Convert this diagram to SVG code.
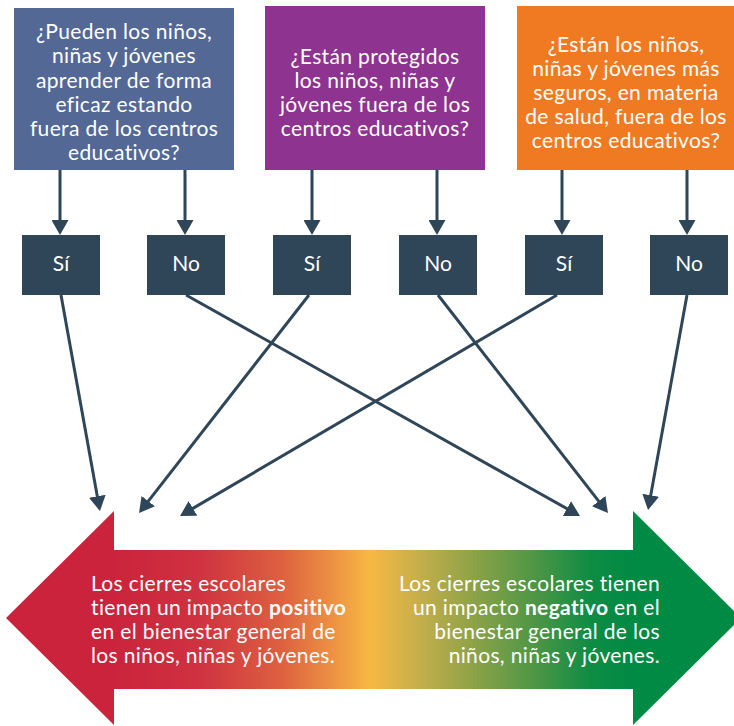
<svg xmlns="http://www.w3.org/2000/svg" width="734" height="726" viewBox="0 0 734 726">
<style>
.q{font-family:Lato,"Noto Sans",sans-serif;font-size:21px;letter-spacing:0.35px;fill:#FFFFFF;text-anchor:middle}
.yn{font-family:Lato,"Noto Sans",sans-serif;font-size:21px;fill:#FFFFFF;text-anchor:middle}
.bt{font-family:Lato,"Noto Sans",sans-serif;font-size:21px;letter-spacing:0.35px;fill:#FFFFFF}
.ans{fill:#2F4658}
.c{stroke:#2F4658;stroke-width:3;fill:none;marker-end:url(#ah)}
</style>
<defs>
<marker id="ah" markerUnits="userSpaceOnUse" markerWidth="15" markerHeight="17" refX="4" refY="8.5" orient="auto">
<path d="M0,0 L15,8.5 L0,17 Z" fill="#2F4658"/>
</marker>
<linearGradient id="g" gradientUnits="userSpaceOnUse" x1="0" y1="0" x2="734" y2="0">
<stop offset="0.155" stop-color="#CB233C"/>
<stop offset="0.272" stop-color="#CF3240"/>
<stop offset="0.381" stop-color="#DD5F40"/>
<stop offset="0.45" stop-color="#EC8F43"/>
<stop offset="0.504" stop-color="#F8B843"/>
<stop offset="0.572" stop-color="#C5AE4B"/>
<stop offset="0.654" stop-color="#86A148"/>
<stop offset="0.736" stop-color="#489545"/>
<stop offset="0.804" stop-color="#0F8C44"/>
<stop offset="0.862" stop-color="#008A44"/>
</linearGradient>
</defs>

<g id="q1">
<rect x="14" y="8" width="220" height="162" fill="#536895"/>
<text class="q" x="124" y="39">¿Pueden los niños,</text>
<text class="q" x="124" y="63">niñas y jóvenes</text>
<text class="q" x="124" y="88">aprender de forma</text>
<text class="q" x="124" y="112">eficaz estando</text>
<text class="q" x="124" y="136">fuera de los centros</text>
<text class="q" x="124" y="160">educativos?</text>
</g>
<g id="q2">
<rect x="265" y="6" width="220" height="164" fill="#8E3390"/>
<text class="q" x="375" y="64">¿Están protegidos</text>
<text class="q" x="375" y="88">los niños, niñas y</text>
<text class="q" x="375" y="112">jóvenes fuera de los</text>
<text class="q" x="375" y="136">centros educativos?</text>
</g>
<g id="q3">
<rect x="517" y="6" width="217" height="164" fill="#F07A22"/>
<text class="q" x="626" y="52">¿Están los niños,</text>
<text class="q" x="626" y="76">niñas y jóvenes más</text>
<text class="q" x="626" y="100">seguros, en materia</text>
<text class="q" x="626" y="124">de salud, fuera de los</text>
<text class="q" x="626" y="148">centros educativos?</text>
</g>

<g id="a1"><rect class="ans" x="22" y="235" width="78" height="60"/><text class="yn" x="61" y="271">Sí</text></g>
<g id="a2"><rect class="ans" x="147" y="235" width="78" height="60"/><text class="yn" x="186" y="271">No</text></g>
<g id="a3"><rect class="ans" x="273" y="235" width="78" height="60"/><text class="yn" x="312" y="271">Sí</text></g>
<g id="a4"><rect class="ans" x="399" y="235" width="78" height="60"/><text class="yn" x="438" y="271">No</text></g>
<g id="a5"><rect class="ans" x="525" y="235" width="78" height="60"/><text class="yn" x="564" y="271">Sí</text></g>
<g id="a6"><rect class="ans" x="650" y="235" width="78" height="60"/><text class="yn" x="689" y="271">No</text></g>

<g id="outcome">
<polygon points="6,618 114,511 114,550 633,550 633,511 741,618 633,725 633,689 114,689 114,725" fill="url(#g)"/>
<text class="bt" x="91" y="591">Los cierres escolares</text>
<text class="bt" x="91" y="615">tienen un impacto <tspan font-weight="bold">positivo</tspan></text>
<text class="bt" x="91" y="639">en el bienestar general de</text>
<text class="bt" x="91" y="663">los niños, niñas y jóvenes.</text>
<text class="bt" x="660" y="591" text-anchor="end">Los cierres escolares tienen</text>
<text class="bt" x="660" y="615" text-anchor="end">un impacto <tspan font-weight="bold">negativo</tspan> en el</text>
<text class="bt" x="660" y="639" text-anchor="end">bienestar general de los</text>
<text class="bt" x="660" y="663" text-anchor="end">niños, niñas y jóvenes.</text>
</g>

<g id="connectors">
<line class="c" x1="60" y1="170" x2="60" y2="224"/>
<line class="c" x1="185" y1="170" x2="185" y2="224"/>
<line class="c" x1="312" y1="170" x2="312" y2="224"/>
<line class="c" x1="437" y1="170" x2="437" y2="224"/>
<line class="c" x1="562" y1="170" x2="562" y2="224"/>
<line class="c" x1="687" y1="170" x2="687" y2="224"/>
<line class="c" x1="61" y1="295" x2="98" y2="500.2"/>
<line class="c" x1="186" y1="295" x2="570.4" y2="510.6"/>
<line class="c" x1="309" y1="295" x2="145.8" y2="504.3"/>
<line class="c" x1="438" y1="295" x2="601.2" y2="504.3"/>
<line class="c" x1="557" y1="295" x2="189.5" y2="510.4"/>
<line class="c" x1="687" y1="295" x2="650" y2="499.2"/>
</g>
</svg>
